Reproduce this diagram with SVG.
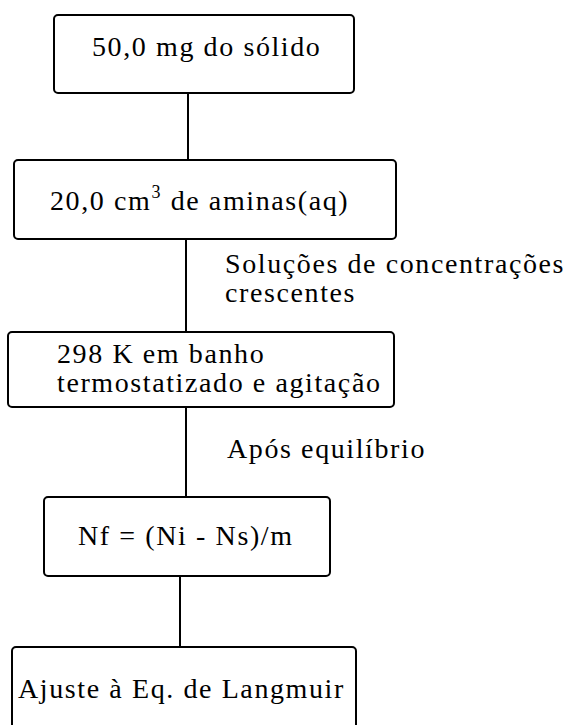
<svg xmlns="http://www.w3.org/2000/svg" width="568" height="725" viewBox="0 0 568 725">
<style>
.box{fill:#fff;stroke:#000;stroke-width:2}
.t{font-family:"Liberation Serif","Times New Roman",serif;font-size:28px;letter-spacing:1.6px;fill:#000}
.c{stroke:#000;stroke-width:2;fill:none}
</style>
<rect width="568" height="725" fill="#fff"/>
<g id="connectors">
<line class="c" x1="188" y1="93" x2="188" y2="160"/>
<line class="c" x1="186" y1="239" x2="186" y2="332"/>
<line class="c" x1="186" y1="407" x2="186" y2="497"/>
<line class="c" x1="180" y1="572" x2="180" y2="647"/>
<text class="t" x="225" y="273">Soluções de concentrações</text>
<text class="t" x="225" y="302">crescentes</text>
<text class="t" x="227" y="458">Após equilíbrio</text>
</g>
<g id="n1">
<rect class="box" x="54" y="15" width="300" height="78" rx="4"/>
<text class="t" x="92" y="56">50,0 mg do sólido</text>
</g>
<g id="n2">
<rect class="box" x="14" y="160" width="382" height="79" rx="4"/>
<text class="t" x="50" y="210">20,0 cm<tspan font-size="18" dy="-12">3</tspan><tspan dy="12"> de aminas(aq)</tspan></text>
</g>
<g id="n3">
<rect class="box" x="8" y="332" width="386" height="75" rx="4"/>
<text class="t" x="57" y="363">298 K em banho</text>
<text class="t" x="57" y="392">termostatizado e agitação</text>
</g>
<g id="n4">
<rect class="box" x="44" y="497" width="286" height="79" rx="4"/>
<text class="t" x="78" y="545">Nf = (Ni - Ns)/m</text>
</g>
<g id="n5">
<rect class="box" x="12" y="647" width="344" height="100" rx="4"/>
<text class="t" x="18" y="698">Ajuste à Eq. de Langmuir</text>
</g>
</svg>
